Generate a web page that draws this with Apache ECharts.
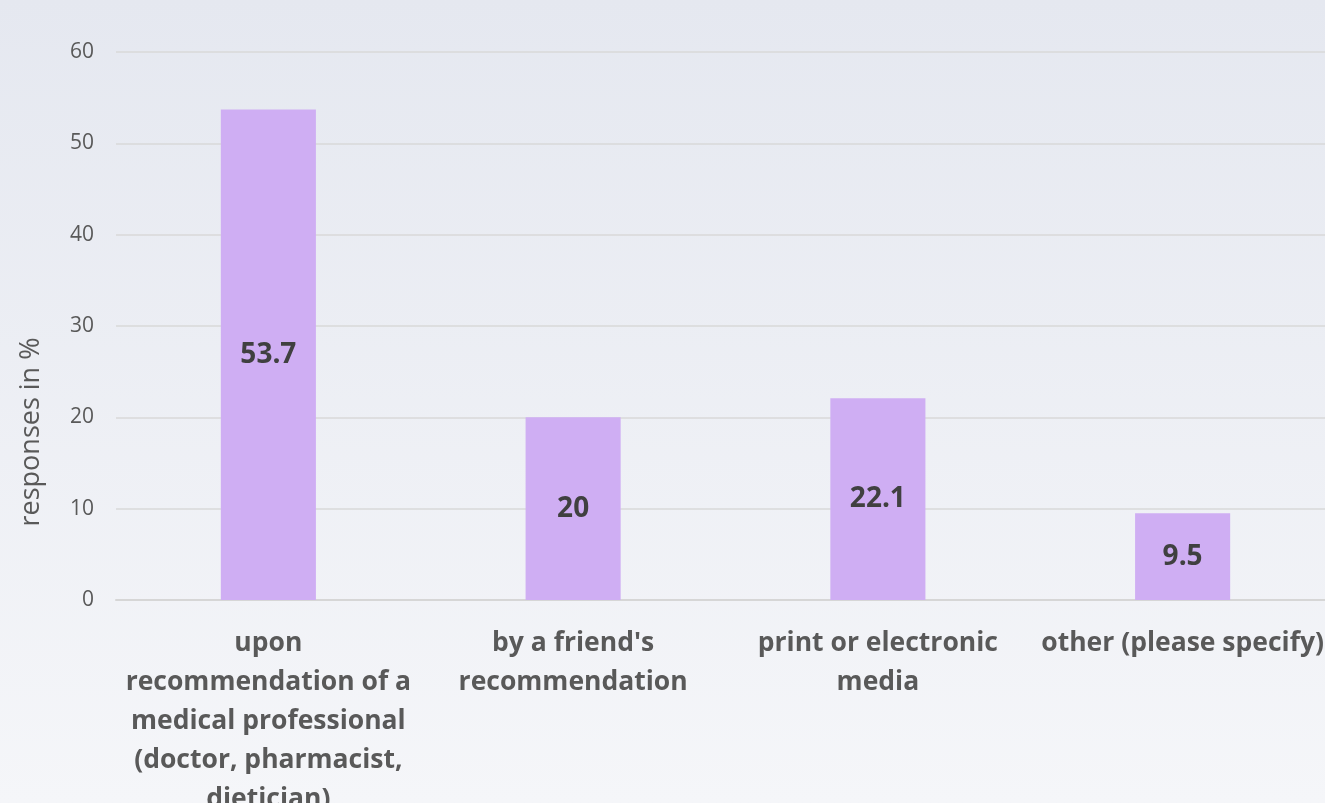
<!DOCTYPE html>
<html>
<head>
<meta charset="utf-8">
<script src="https://cdn.jsdelivr.net/npm/echarts@6/dist/echarts.min.js"></script>
<style>
  html, body { margin: 0; padding: 0; }
  #chart {
    width: 1325px;
    height: 803px;
    background: linear-gradient(to bottom, #e5e8f0 0%, #f5f6f9 100%);
  }
</style>
</head>
<body>
<div id="chart"></div>
<script>
// data
const categories = [
  "upon\nrecommendation of a\nmedical professional\n(doctor, pharmacist,\ndietician)",
  "by a friend's\nrecommendation",
  "print or electronic\nmedia",
  "other (please specify)"
];
const values = [53.7, 20, 22.1, 9.5];
const yTicks = { min: 0, max: 60, interval: 10 };
const yName = "responses in %";

const myChart = echarts.init(document.getElementById("chart"));
const font = "'Open Sans', 'Noto Sans', sans-serif";

const option = {
  backgroundColor: "transparent",
  animation: false,
  grid: {
    left: 116,
    right: -10,
    top: 52,
    bottom: 203,
    containLabel: false,
    outerBoundsMode: "none",
  },
  graphic: [
    {
      type: "text",
      x: 31,
      y: 432,
      rotation: Math.PI / 2,
      style: {
        text: yName,
        fill: "#595959",
        font: "27px " + font,
        align: "center",
        verticalAlign: "middle",
      },
    },
  ],
  xAxis: {
    type: "category",
    data: categories,
    axisTick: { show: false },
    axisLine: { show: true, lineStyle: { color: "#d6d6d6", width: 2 } },
    axisLabel: {
      interval: 0,
      margin: 24,
      color: "#595959",
      fontFamily: font,
      fontWeight: "bold",
      fontSize: 26.5,
      lineHeight: 39,
    },
  },
  yAxis: {
    type: "value",
    min: yTicks.min,
    max: yTicks.max,
    interval: yTicks.interval,
    axisLine: { show: false },
    axisTick: { show: false },
    axisLabel: {
      color: "#595959",
      fontFamily: font,
      fontSize: 21,
      margin: 22,
    },
    splitLine: {
      lineStyle: { color: "#d9d9d9", width: 1.5 },
    },
  },
  series: [
    {
      type: "bar",
      data: values,
      barWidth: "31.2%",
      itemStyle: { color: "#cfaef3" },
      label: {
        show: true,
        position: "inside",
        color: "#404040",
        fontFamily: font,
        fontWeight: "bold",
        fontSize: 28,
      },
    },
  ],
};
myChart.setOption(option);
</script>
</body>
</html>
